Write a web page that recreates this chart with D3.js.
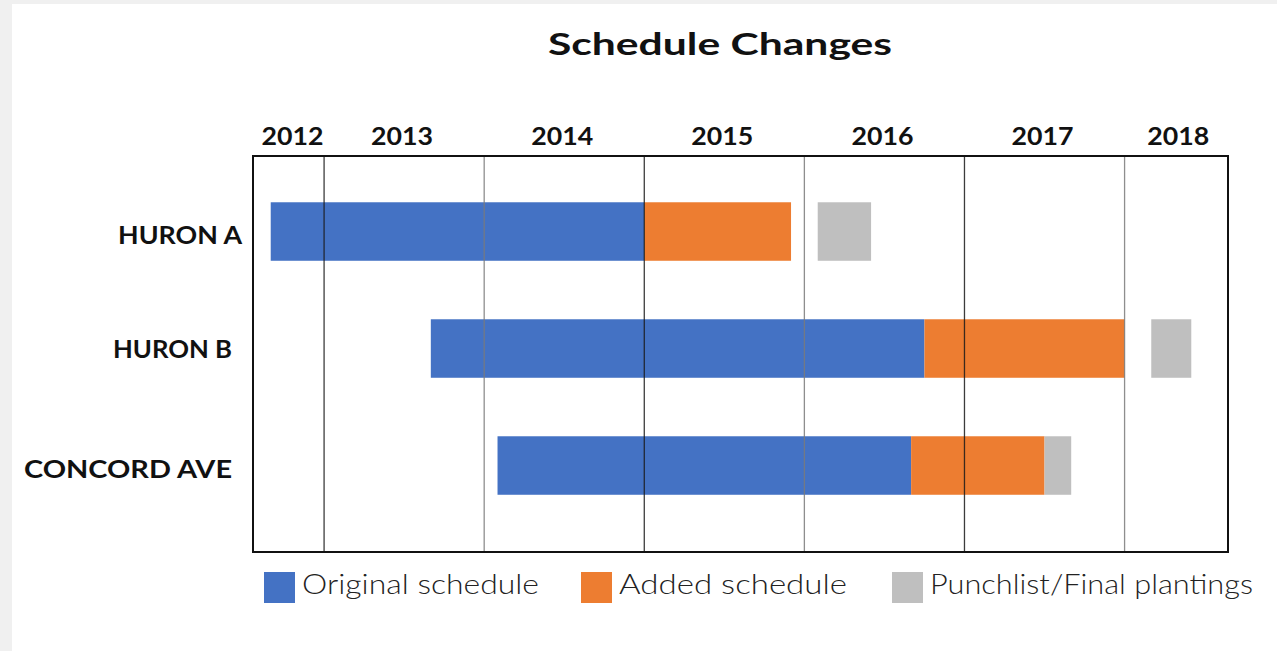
<!DOCTYPE html>
<html>
<head>
<meta charset="utf-8">
<script src="https://cdn.jsdelivr.net/npm/d3@7"></script>
<style>
  html, body { margin: 0; padding: 0; background: #f0f0f0; }
  svg { display: block; }
</style>
</head>
<body>
<svg id="chart" width="1277" height="651"></svg>
<script>
// chart data (months as "YYYY-MM")
const projects      = ["HURON A", "HURON B", "CONCORD AVE"];
const originalStart = ["2012-09", "2013-09", "2014-02"];
const originalEnd   = ["2015-01", "2016-10", "2016-09"];
const addedEnd      = ["2015-12", "2018-01", "2017-07"];
const punchStart    = ["2016-02", "2018-03", "2017-07"];
const punchEnd      = ["2016-06", "2018-06", "2017-09"];
const years         = [2012, 2013, 2014, 2015, 2016, 2017, 2018];
const phases        = ["Original schedule", "Added schedule", "Punchlist/Final plantings"];
const phaseColors   = ["#4472c4", "#ed7d31", "#bfbfbf"];

const width = 1277, height = 651;
const plot = { left: 253, right: 1228, top: 156, bottom: 552 };
const font = "Lato, 'Open Sans', sans-serif";

// "2015-06" -> 2015.4167
const toYear = s => {
  const [y, m] = s.split("-").map(Number);
  return y + (m - 1) / 12;
};

// one row per segment
const segments = [];
projects.forEach((p, i) => {
  segments.push({ project: p, phase: 0, start: originalStart[i], end: originalEnd[i] });
  segments.push({ project: p, phase: 1, start: originalEnd[i], end: addedEnd[i] });
  segments.push({ project: p, phase: 2, start: punchStart[i], end: punchEnd[i] });
});

const svg = d3.select("#chart");

// white page panel
svg.append("rect")
  .attr("x", 12).attr("y", 4)
  .attr("width", width - 12).attr("height", height - 4)
  .attr("fill", "#fff");

const x = d3.scaleLinear()
  .domain([2012.556, 2018.646])
  .range([plot.left, plot.right]);

const y = d3.scaleBand()
  .domain(projects)
  .range([plot.top, plot.bottom])
  .paddingInner(0.5)
  .paddingOuter(0.4423)
  .align(0.447);

// title
svg.append("text")
  .attr("x", 720)
  .attr("y", 55)
  .attr("text-anchor", "middle")
  .attr("font-family", font)
  .attr("font-weight", 700)
  .attr("font-size", 30)
  .attr("textLength", 344)
  .attr("lengthAdjust", "spacingAndGlyphs")
  .attr("fill", "#111")
  .text("Schedule Changes");

// bars
svg.append("g")
  .selectAll("rect")
  .data(segments)
  .join("rect")
    .attr("x", d => x(toYear(d.start)))
    .attr("y", d => y(d.project))
    .attr("width", d => x(toYear(d.end)) - x(toYear(d.start)))
    .attr("height", y.bandwidth())
    .attr("fill", d => phaseColors[d.phase]);

// year gridlines (drawn on top of the bars, like the original)
const gridYears = years.filter(yr => x(yr) > plot.left && x(yr) < plot.right);
svg.append("g")
  .selectAll("line")
  .data(gridYears)
  .join("line")
    .attr("x1", d => x(d)).attr("x2", d => x(d))
    .attr("y1", plot.top).attr("y2", plot.bottom)
    .attr("stroke", (d, i) => i % 2 === 0 ? "#1a1a1a" : "#7a7a7a")
    .attr("stroke-width", 1.3)
    .attr("stroke-opacity", 0.85);

// frame
svg.append("rect")
  .attr("x", plot.left).attr("y", plot.top)
  .attr("width", plot.right - plot.left)
  .attr("height", plot.bottom - plot.top)
  .attr("fill", "none")
  .attr("stroke", "#111")
  .attr("stroke-width", 2);

// year labels, centred on the visible part of each year
svg.append("g")
  .selectAll("text")
  .data(years)
  .join("text")
    .attr("x", d => {
      const a = Math.max(x(d), plot.left), b = Math.min(x(d + 1), plot.right);
      return (a + b) / 2 + (d === 2012 ? 4 : d === 2018 ? 2 : -2);
    })
    .attr("y", 145)
    .attr("text-anchor", "middle")
    .attr("font-family", font)
    .attr("font-weight", 700)
    .attr("font-size", 25)
    .attr("textLength", 62)
    .attr("lengthAdjust", "spacingAndGlyphs")
    .attr("fill", "#111")
    .text(d => d);

// project labels
const labelRight = [242, 232, 232];
const labelWidth = [124, 119, 208];
svg.append("g")
  .selectAll("text")
  .data(projects)
  .join("text")
    .attr("x", (d, i) => labelRight[i])
    .attr("y", (d, i) => y(d) + y.bandwidth() / 2 + (i === 1 ? 9 : 12))
    .attr("text-anchor", "end")
    .attr("font-family", font)
    .attr("font-weight", 700)
    .attr("font-size", 25)
    .attr("textLength", (d, i) => labelWidth[i])
    .attr("lengthAdjust", "spacingAndGlyphs")
    .attr("fill", "#111")
    .text(d => d);

// legend
const legendX = [264, 581, 892];
const legendTextW = [237, 228, 323];
const legend = svg.append("g")
  .selectAll("g")
  .data(phases)
  .join("g")
    .attr("transform", (d, i) => `translate(${legendX[i]},572)`);

legend.append("rect")
  .attr("width", 31).attr("height", 31)
  .attr("fill", (d, i) => phaseColors[i]);

legend.append("text")
  .attr("x", 38)
  .attr("y", 22)
  .attr("font-family", font)
  .attr("font-weight", 300)
  .attr("font-size", 27)
  .attr("textLength", (d, i) => legendTextW[i])
  .attr("lengthAdjust", "spacingAndGlyphs")
  .attr("fill", "#222")
  .text(d => d);
</script>
</body>
</html>
